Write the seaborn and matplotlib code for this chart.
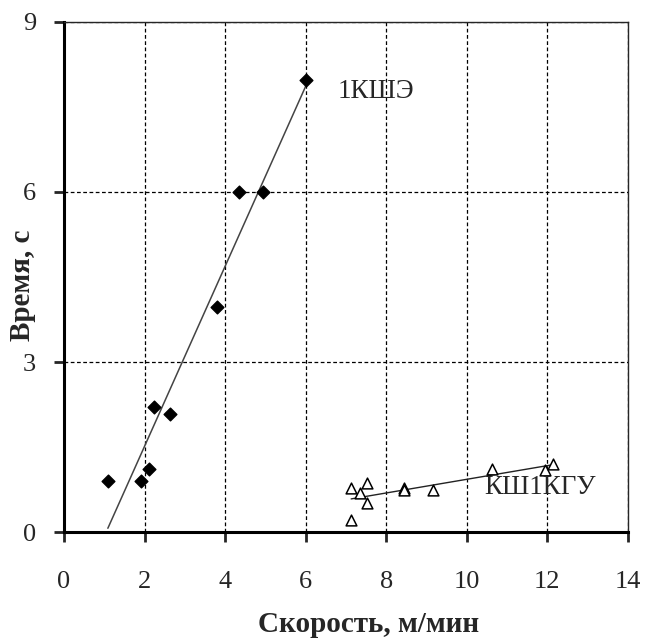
import numpy as np
import pandas as pd
import matplotlib
matplotlib.use('Agg')
import matplotlib.pyplot as plt
import seaborn as sns

# 1КШЭ (ромбы)
kshe_speed = [1.09, 1.91, 2.10, 2.23, 2.63, 3.79, 4.34, 4.93, 6.02]
kshe_time = [0.90, 0.90, 1.11, 2.20, 2.08, 3.97, 6.00, 6.00, 7.98]

# КШ1КГУ (треугольники)
kgu_speed = [7.13, 7.52, 7.34, 7.52, 7.13, 8.43, 8.45, 9.15, 10.62, 11.94, 12.13]
kgu_time = [0.77, 0.86, 0.69, 0.51, 0.22, 0.77, 0.75, 0.74, 1.11, 1.09, 1.20]

x_ticks = [0, 2, 4, 6, 8, 10, 12, 14]
y_ticks = [0, 3, 6, 9]

sns.set_style('ticks')
plt.rcParams['font.family'] = ['Liberation Serif', 'DejaVu Serif']

df1 = pd.DataFrame({'speed': kshe_speed, 'time': kshe_time})
df2 = pd.DataFrame({'speed': kgu_speed, 'time': kgu_time})

fig = plt.figure(figsize=(6.46, 6.39), dpi=100)
ax = fig.add_axes([0.099, 0.1674, 0.873, 0.7982])

# точки + линия тренда
sns.regplot(x='speed', y='time', data=df1, ci=None, ax=ax, truncate=True,
            marker='D', scatter_kws={'s': 42, 'color': 'black', 'alpha': 1, 'zorder': 3},
            line_kws={'color': '#444444', 'lw': 1.1})
sns.regplot(x='speed', y='time', data=df2, ci=None, ax=ax, truncate=True,
            marker='^', scatter_kws={'s': 60, 'facecolors': 'white', 'edgecolors': 'black',
                                     'linewidths': 1.1, 'alpha': 1, 'zorder': 3},
            line_kws={'color': '#222222', 'lw': 1.0})

ax.set_xlim(0, 14)
ax.set_ylim(0, 9)
ax.set_xticks(x_ticks)
ax.set_yticks(y_ticks)
ax.grid(True, color='black', linestyle=(0, (3, 2)), lw=0.9)
ax.set_axisbelow(True)

for s in ['left', 'bottom']:
    ax.spines[s].set_linewidth(2.2)
    ax.spines[s].set_color('black')
for s in ['top', 'right']:
    ax.spines[s].set_linewidth(1.0)
    ax.spines[s].set_visible(True)

ax.tick_params(axis='x', direction='out', length=7, width=2, labelsize=19, pad=21)
ax.tick_params(axis='y', direction='out', length=7, width=2, labelsize=19, pad=13)

ax.set_xlabel('Скорость, м/мин', fontsize=21, fontweight='bold')
ax.xaxis.set_label_coords(0.54, -0.155)
ax.set_ylabel('Время, с', fontsize=21, fontweight='bold')
ax.yaxis.set_label_coords(-0.05, 0.484)

ax.text(6.79, 7.77, '1КШЭ', fontsize=19.5, va='center', ha='left')
ax.text(10.43, 0.785, 'КШ1КГУ', fontsize=19.5, va='center', ha='left')

fig.savefig('out.png', dpi=100, facecolor='white')
